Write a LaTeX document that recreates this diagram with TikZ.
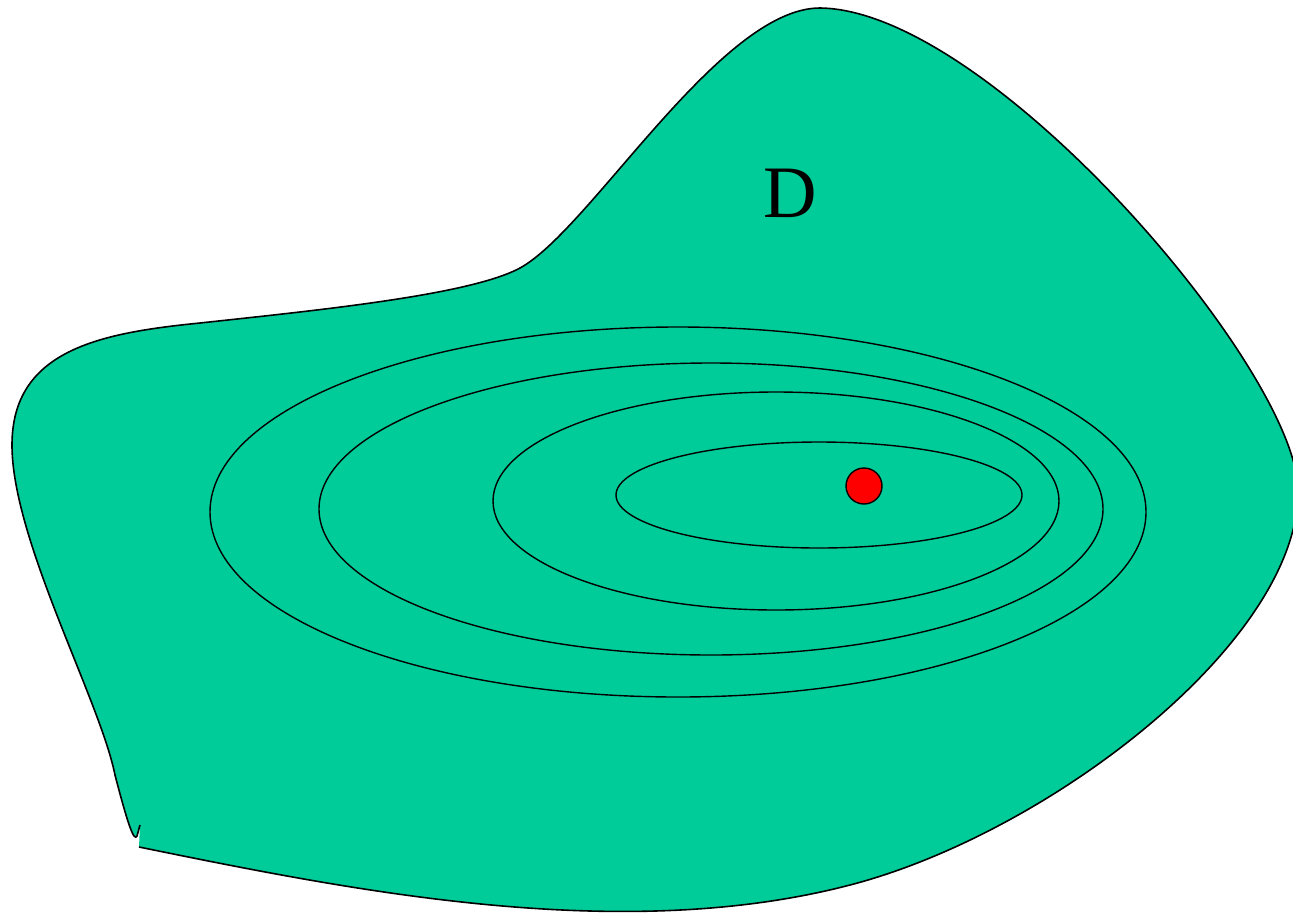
\documentclass[tikz,border=0pt]{standalone}
\usepackage{fontspec}
\setmainfont{Liberation Serif}
\definecolor{regionfill}{HTML}{00CC99}
\tikzset{
  contour/.style={draw=black, line width=1.4pt},
  outline/.style={draw=black, line width=1.6pt},
  dot/.style={circle, fill=red, draw=black, line width=1.4pt, minimum size=36pt, inner sep=0pt},
  label/.style={font=\fontsize{74}{74}\selectfont, inner sep=0pt}
}
\def\regionpath{(139,847) .. controls (350,890) and (620,945) .. (850,885)
  .. controls (1050,833) and (1300,640) .. (1298,490)
  .. controls (1297,370) and (990,10) .. (820,8)
  .. controls (720,8) and (590,230) .. (520,268)
  .. controls (470,295) and (320,310) .. (200,323)
  .. controls (100,333) and (12,350) .. (12,445)
  .. controls (12,540) and (100,700) .. (115,775)
  .. controls (128,825) and (134,842) .. (137,836)
  -- (140,825)}
\begin{document}
\begin{tikzpicture}[x=1pt,y=-1pt]
\useasboundingbox (0,0) rectangle (1293,919);
\clip (0,0) rectangle (1293,919);
% region D (fill, closed)
\fill[regionfill] \regionpath -- cycle;
% outline (open path)
\draw[outline] \regionpath;
% level sets
\draw[contour] (678,512) ellipse [x radius=468pt, y radius=185pt];
\draw[contour] (711,509) ellipse [x radius=392pt, y radius=146pt];
\draw[contour] (776,501) ellipse [x radius=283pt, y radius=109pt];
\draw[contour] (819,495) ellipse [x radius=203pt, y radius=53pt];
% minimum point
\node[dot] (min) at (864,486) {};
% label
\node[label] (D) at (790,193) {D};
\end{tikzpicture}
\end{document}
